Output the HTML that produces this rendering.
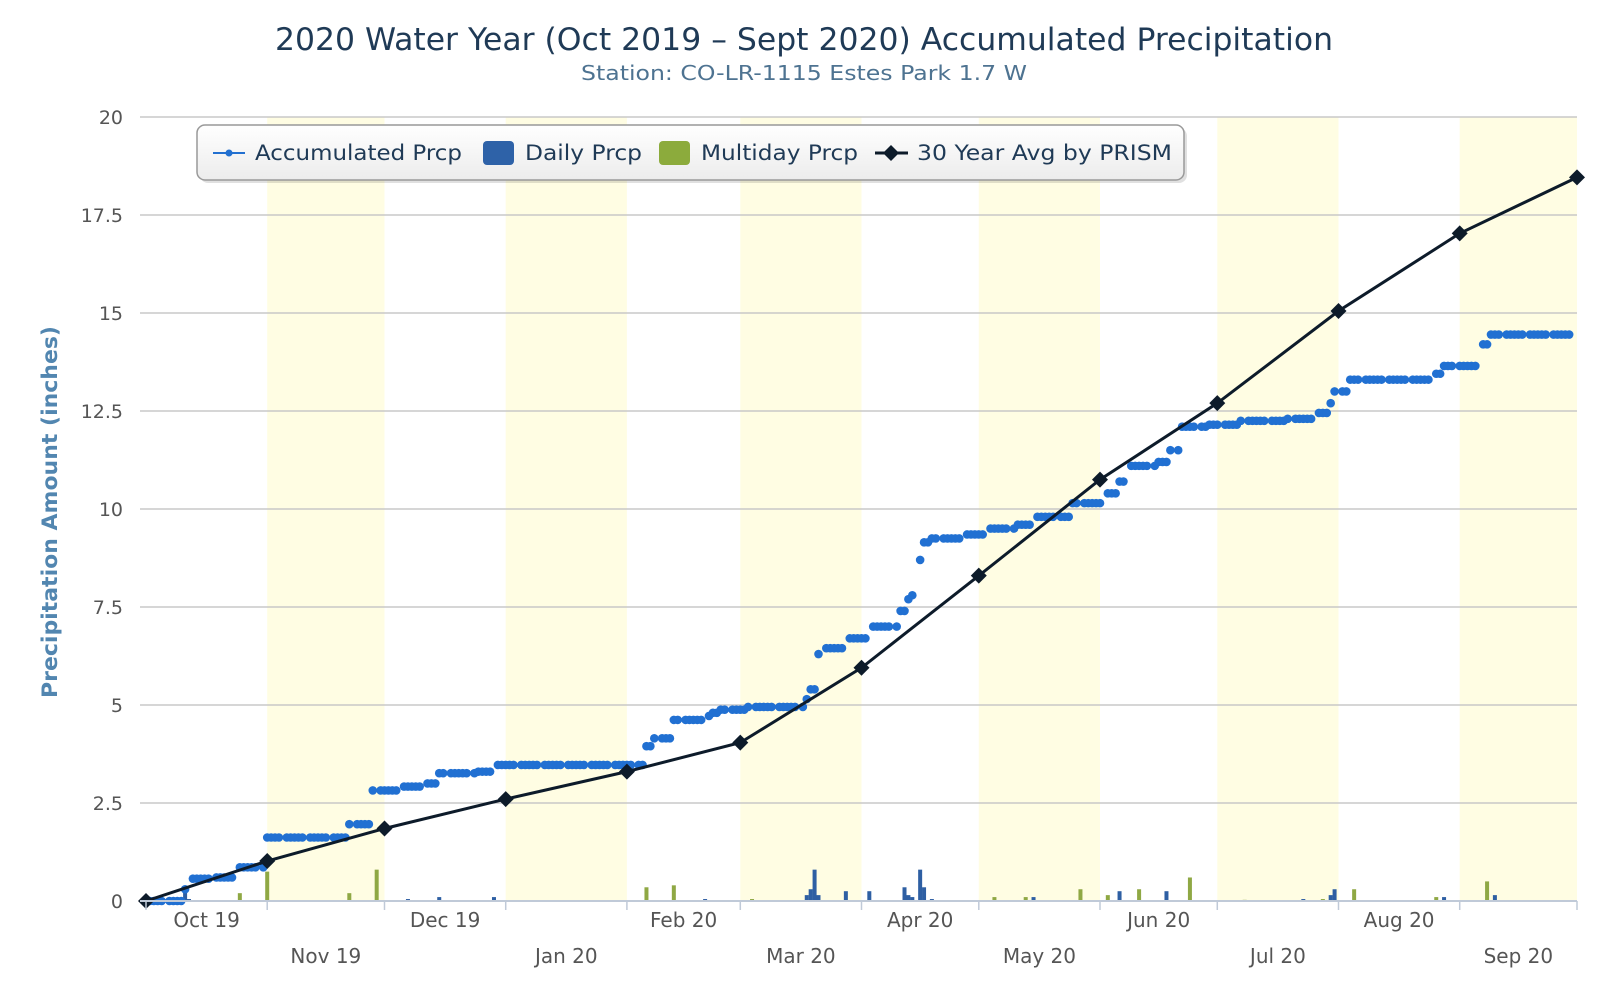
<!DOCTYPE html>
<html><head><meta charset="utf-8"><style>
html,body{margin:0;padding:0;background:#fff;}
svg{display:block;font-family:"DejaVu Sans","Liberation Sans",sans-serif;}
</style></head><body>
<svg id="chart" width="1600" height="1000" viewBox="0 0 1600 1000" xmlns="http://www.w3.org/2000/svg">
<rect width="1600" height="1000" fill="#fff"/>
<g id="bands"></g>
<g id="grid"></g>
<g id="bars"></g>
<g id="accum"></g>
<g id="prism"></g>
<g id="xaxis"></g>
<text x="804" y="50" font-size="31" fill="#1f3a56" text-anchor="middle" textLength="1058" lengthAdjust="spacingAndGlyphs">2020 Water Year (Oct 2019 – Sept 2020) Accumulated Precipitation</text>
<text x="804" y="80" font-size="20" fill="#4e7391" text-anchor="middle" textLength="446" lengthAdjust="spacingAndGlyphs">Station: CO-LR-1115 Estes Park 1.7 W</text>
<text transform="translate(57,512) rotate(-90)" font-size="21" font-weight="bold" fill="#5286b0" text-anchor="middle" textLength="372" lengthAdjust="spacingAndGlyphs">Precipitation Amount (inches)</text>
<g>
<defs><linearGradient id="lg" x1="0" y1="0" x2="0" y2="1"><stop offset="0" stop-color="#fff"/><stop offset="1" stop-color="#ececec"/></linearGradient></defs>
<rect x="200" y="128" width="987" height="55" rx="8" fill="#000" opacity="0.12"/>
<rect x="197" y="125" width="987" height="55" rx="8" fill="url(#lg)" stroke="#999" stroke-width="1.5"/>
<g>
<line x1="213" y1="153" x2="245" y2="153" stroke="#2270d0" stroke-width="2"/><circle cx="229" cy="153" r="3.5" fill="#2270d0"/>
<text x="255" y="160" font-size="21" fill="#1f3a56" textLength="207" lengthAdjust="spacingAndGlyphs">Accumulated Prcp</text></g>
<g>
<rect x="483" y="141" width="31" height="24" rx="4" fill="#2e62a8"/>
<text x="525" y="160" font-size="21" fill="#1f3a56" textLength="117" lengthAdjust="spacingAndGlyphs">Daily Prcp</text></g>
<g>
<rect x="659" y="141" width="31" height="24" rx="4" fill="#8cab3c"/>
<text x="701" y="160" font-size="21" fill="#1f3a56" textLength="157" lengthAdjust="spacingAndGlyphs">Multiday Prcp</text></g>
<g>
<line x1="875" y1="153" x2="908" y2="153" stroke="#0d1b2a" stroke-width="3"/><path d="M891 145 L899 153 L891 161 L883 153 Z" fill="#0d1b2a"/>
<text x="917" y="160" font-size="21" fill="#1f3a56" textLength="255" lengthAdjust="spacingAndGlyphs">30 Year Avg by PRISM</text></g>
</g>
</svg>
<script>
// ---- data ----
const monthLabels = ["Oct 19","Nov 19","Dec 19","Jan 20","Feb 20","Mar 20","Apr 20","May 20","Jun 20","Jul 20","Aug 20","Sep 20"];
const monthStartDays = [0,31,61,92,123,152,183,213,244,274,305,336,366];
const yTicks = [0,2.5,5,7.5,10,12.5,15,17.5,20];
const yTickLabels = ["0","2.5","5","7.5","10","12.5","15","17.5","20"];
const prismValues = [0,1.02,1.85,2.6,3.3,4.04,5.95,8.3,10.75,12.7,15.05,17.03,18.46];
const accumStepDays = [0,10,11,17,23,31,52,58,65,72,75,85,89,128,130,135,143,145,147,154,169,170,172,173,179,185,193,195,196,198,199,201,210,215,223,227,237,246,249,252,259,262,265,272,280,292,300,303,304,308,329,332,342,344];
const accumStepVals = [0,0.3,0.57,0.6,0.86,1.62,1.96,2.82,2.92,3.0,3.26,3.3,3.47,3.95,4.15,4.62,4.72,4.8,4.88,4.95,5.15,5.4,6.3,6.45,6.7,7.0,7.4,7.7,7.8,8.7,9.15,9.25,9.35,9.5,9.6,9.8,10.15,10.4,10.7,11.1,11.2,11.5,12.1,12.15,12.25,12.3,12.45,12.7,13.0,13.3,13.45,13.65,14.2,14.45];
const dailyDays = [10,11,67,75,89,143,169,170,171,172,179,185,194,195,196,198,199,201,227,249,261,296,303,304,332,345];
const dailyVals = [0.3,0.05,0.05,0.1,0.1,0.05,0.15,0.3,0.8,0.15,0.25,0.25,0.35,0.15,0.1,0.8,0.35,0.05,0.1,0.25,0.25,0.05,0.15,0.3,0.1,0.15];
const multiDays = [24,31,52,59,128,135,155,217,225,239,246,254,267,281,301,309,330,343];
const multiVals = [0.2,0.75,0.2,0.8,0.35,0.4,0.05,0.1,0.1,0.3,0.15,0.3,0.6,0.03,0.05,0.3,0.1,0.5];
const totalDays = 366;

// ---- scales ----
const X0=146, X1=1577, Y0=901, Y20=117;
function x(d){return X0+(X1-X0)*d/totalDays;}
function y(v){return Y0-(Y0-Y20)*v/20;}
const NS="http://www.w3.org/2000/svg";
function mk(tag,attrs,parent){const e=document.createElementNS(NS,tag);for(const k in attrs)e.setAttribute(k,attrs[k]);parent.appendChild(e);return e;}

const bands=document.getElementById('bands');
for(let i=1;i<12;i+=2){
  const r=mk('rect',{x:x(monthStartDays[i]),y:Y20,width:x(monthStartDays[i+1])-x(monthStartDays[i]),height:Y0-Y20,fill:'#fffde3'},bands);
  
  
}
const grid=document.getElementById('grid');
yTicks.forEach((t,i)=>{
  const l=mk('line',{x1:X0-6,x2:X1,y1:y(t),y2:y(t),stroke:'#c8c8c8','stroke-width':1.5},grid);
  
  
  const tx=mk('text',{x:123,y:y(t)+7,'font-size':19,fill:'#555','text-anchor':'end'},grid);
  tx.textContent=yTickLabels[i];
  
  
});
const bars=document.getElementById('bars');
multiDays.forEach((d,i)=>{
  const r=mk('rect',{x:x(d)-2,y:y(multiVals[i]),width:4,height:Y0-y(multiVals[i]),fill:'#8fa844'},bars);
  
  
});
dailyDays.forEach((d,i)=>{
  const r=mk('rect',{x:x(d)-2,y:y(dailyVals[i]),width:4,height:Y0-y(dailyVals[i]),fill:'#2e5fa3'},bars);
  
  
});
const acc=document.getElementById('accum');
let si=0;
for(let d=0;d<totalDays;d++){
  while(si+1<accumStepDays.length && accumStepDays[si+1]<=d) si++;
  if(d%6===5) continue;
  const c=mk('circle',{cx:x(d),cy:y(accumStepVals[si]),r:4.3,fill:'#2170d2'},acc);
  
  
}
const pr=document.getElementById('prism');
let pts=prismValues.map((v,i)=>x(monthStartDays[i])+','+y(v)).join(' ');
const pl=mk('polyline',{points:pts,fill:'none',stroke:'#0d1b2a','stroke-width':3},pr);


prismValues.forEach((v,i)=>{
  const cx=x(monthStartDays[i]),cy=y(v);
  const p=mk('path',{d:`M${cx} ${cy-8} L${cx+8} ${cy} L${cx} ${cy+8} L${cx-8} ${cy} Z`,fill:'#0d1b2a'},pr);
  
  
});
const xa=document.getElementById('xaxis');
const ax=mk('line',{x1:X0-6,x2:X1,y1:Y0,y2:Y0,stroke:'#c0cad8','stroke-width':2},xa);


monthStartDays.forEach(d=>{
  const t=mk('line',{x1:x(d),x2:x(d),y1:Y0,y2:Y0+9,stroke:'#c0cad8','stroke-width':1.5},xa);
  
  
});
monthLabels.forEach((m,i)=>{
  const cx=(x(monthStartDays[i])+x(monthStartDays[i+1]))/2;
  const t=mk('text',{x:cx,y:i%2===0?927:963,'font-size':20,fill:'#555','text-anchor':'middle'},xa);
  t.textContent=m;
  
  
});
</script>
</body></html>
